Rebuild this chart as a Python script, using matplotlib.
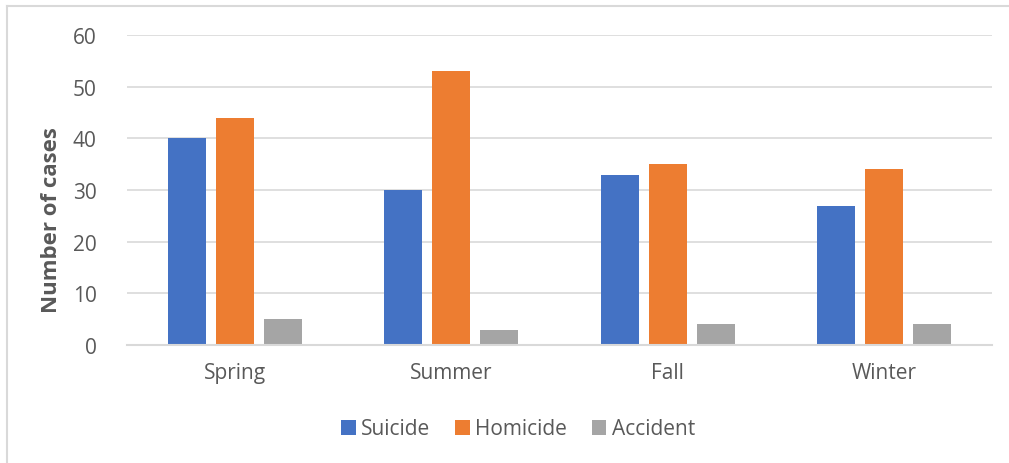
import matplotlib
matplotlib.use("Agg")
import matplotlib.pyplot as plt
import numpy as np
from matplotlib.lines import Line2D

categories = ["Spring", "Summer", "Fall", "Winter"]
series_names = ["Suicide", "Homicide", "Accident"]
suicide = [40, 30, 33, 27]
homicide = [44, 53, 35, 34]
accident = [5, 3, 4, 4]
yticks = [0, 10, 20, 30, 40, 50, 60]

colors = ["#4472C4", "#ED7D31", "#A5A5A5"]
text_color = "#595959"
plt.rcParams['font.family'] = ['Open Sans', 'DejaVu Sans']

W, H = 1009, 464
fig = plt.figure(figsize=(W / 100, H / 100), dpi=100)
# outer chart border (top and left only visible)
fig.lines.append(Line2D([6.5 / W, 1.0], [1 - 6.5 / H, 1 - 6.5 / H], transform=fig.transFigure,
                        color="#D9D9D9", linewidth=1.5))
fig.lines.append(Line2D([6.5 / W, 6.5 / W], [0, 1 - 6.5 / H], transform=fig.transFigure,
                        color="#D9D9D9", linewidth=1.5))
ax = fig.add_axes([127 / W, (H - 346) / H, (992 - 127) / W, (346 - 36) / H])

x = np.arange(len(categories))
w = 0.176
step = 0.222
for i, (vals, name) in enumerate(zip([suicide, homicide, accident], series_names)):
    ax.bar(x + (i - 1) * step, vals, width=w, color=colors[i], label=name, zorder=3)

ax.set_xlim(-0.5, 3.5)
ax.set_ylim(0, 60)
ax.set_yticks(yticks)
ax.set_xticks(x)
ax.set_xticklabels(categories)
ax.yaxis.grid(True, color="#D9D9D9", linewidth=1.2, zorder=0)
for s in ["top", "right", "left"]:
    ax.spines[s].set_visible(False)
ax.spines["bottom"].set_color("#D9D9D9")
ax.spines["bottom"].set_linewidth(1.5)
ax.spines["bottom"].set_zorder(4)
ax.tick_params(axis="both", length=0, labelsize=15, labelcolor=text_color)
ax.tick_params(axis="x", pad=12)
ax.tick_params(axis="y", pad=22)

fig.text(52 / W, 1 - 220 / H, "Number of cases", rotation=90, fontsize=16, fontweight="bold",
         color=text_color, ha="center", va="center")

leg = fig.legend(loc="center", bbox_to_anchor=(518 / W, 1 - 430 / H), ncol=3, frameon=False,
                 fontsize=15, handlelength=0.7, handleheight=0.7, handletextpad=0.25,
                 columnspacing=1.2)
for t in leg.get_texts():
    t.set_color(text_color)

fig.savefig("out.png", dpi=100)
